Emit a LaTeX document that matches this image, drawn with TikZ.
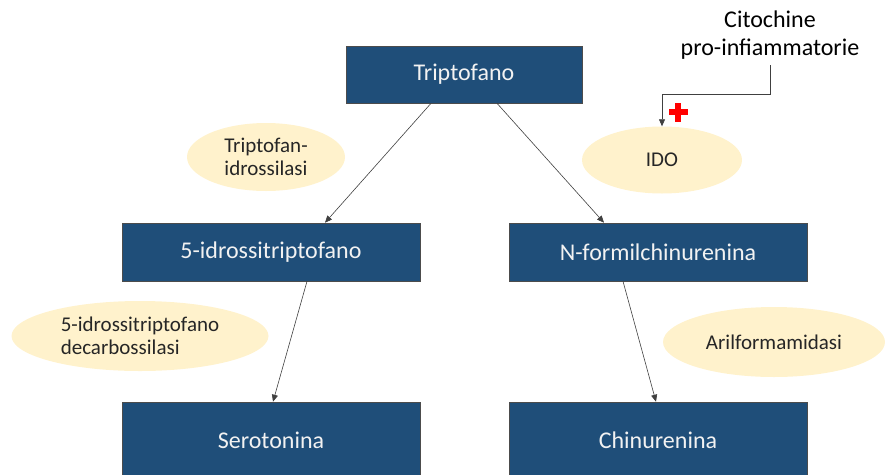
\documentclass[tikz,border=0pt]{standalone}
\usepackage{fontspec}
\setmainfont{Carlito}
\usepackage{tikz}
\usetikzlibrary{arrows.meta,shapes.geometric}
\definecolor{molblue}{HTML}{1F4E79}
\definecolor{enzyellow}{HTML}{FFF2CC}
\definecolor{linegray}{HTML}{404040}

\begin{document}
\begin{tikzpicture}[x=1pt,y=-1pt,>={Triangle[length=7pt,width=6pt]},
mol/.style={draw=black!70,line width=0.6pt,fill=molblue,text=white!95!black,
  font=\fontsize{24}{28}\selectfont,minimum width=298pt,minimum height=58pt,inner sep=0pt},
enz/.style={ellipse,fill=enzyellow,text=black!85,align=center,inner sep=0pt,
  font=\fontsize{21}{23}\selectfont},
link/.style={->,draw=linegray,line width=0.6pt}]
\useasboundingbox (0,0) rectangle (885,474);
\node[mol,minimum width=236pt,minimum height=57pt] (trp) at (464,74.5) {Triptofano};
\node[mol] (htp) at (271,252) {5-idrossitriptofano};
\node[mol] (nfk) at (658,252) {N-formilchinurenina};
\node[mol,minimum height=76pt] (sero) at (271,440) {Serotonina};
\node[mol,minimum height=76pt] (kyn) at (658,440) {Chinurenina};
\node[enz,minimum width=158pt,minimum height=68pt] (tph) at (266,157) {Triptofan-\\idrossilasi};
\node[enz,minimum width=160pt,minimum height=67pt] (ido) at (662,160) {IDO};
\node[enz,align=left,minimum width=257pt,minimum height=70pt] (aadc) at (140,336) {5-idrossitriptofano\\decarbossilasi};
\node[enz,minimum width=222pt,minimum height=70pt] (afm) at (774,342) {Arilformamidasi};
\node[align=center,inner sep=0pt,font=\fontsize{24}{28}\selectfont] (cyt) at (770,35) {Citochine\\pro-infiammatorie};
\draw[link] ([xshift=-33pt]trp.south) -- ([xshift=54pt]htp.north);
\draw[link] ([xshift=33pt]trp.south) -- ([xshift=-54pt]nfk.north);
\draw[link] ([xshift=36pt]htp.south) -- ([xshift=2pt]sero.north);
\draw[link] ([xshift=-35pt]nfk.south) -- ([xshift=-2pt]kyn.north);
\draw[link] ([yshift=-6pt]cyt.south) -- ++(0,29) -| (ido.north);
% red plus
\fill[red] (668.5,109) rectangle (687.5,115);
\fill[red] (675,102.5) rectangle (681,121.5);
\end{tikzpicture}
\end{document}
